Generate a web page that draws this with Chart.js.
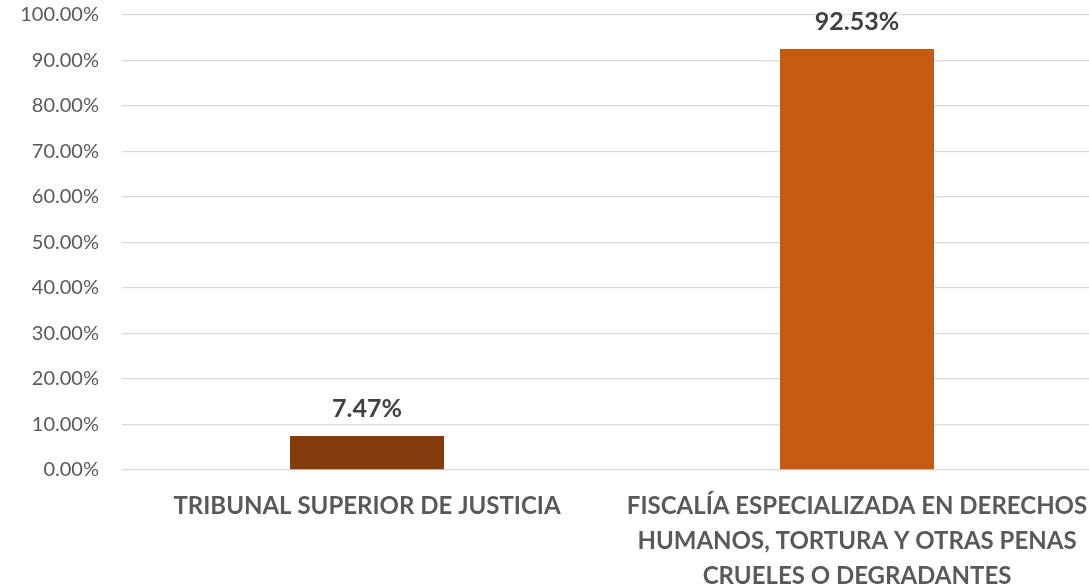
<!DOCTYPE html>
<html>
<head>
<meta charset="utf-8">
<script src="https://cdn.jsdelivr.net/npm/chart.js@4/dist/chart.umd.min.js"></script>
<style>
  html, body { margin: 0; padding: 0; background: #ffffff; overflow: hidden; }
  #wrap { width: 1102px; height: 588px; }
</style>
</head>
<body>
<div id="wrap"><canvas id="c" width="1102" height="588"></canvas></div>
<script>
const categories = [
  "TRIBUNAL SUPERIOR DE JUSTICIA",
  ["FISCALÍA ESPECIALIZADA EN DERECHOS", "HUMANOS, TORTURA Y OTRAS PENAS", "CRUELES O DEGRADANTES"]
];
const values = [7.47, 92.53];
const barColors = ["#843C0C", "#C55A11"];
const yMin = 0, yMax = 100, yStep = 10;

const FONT = "Lato, 'Open Sans', sans-serif";

const valueLabels = {
  id: 'valueLabels',
  afterDatasetsDraw(chart) {
    const ctx = chart.ctx;
    const meta = chart.getDatasetMeta(0);
    ctx.save();
    ctx.font = "bold 25px " + FONT;
    ctx.fillStyle = "#404040";
    ctx.textAlign = "center";
    ctx.textBaseline = "middle";
    meta.data.forEach((bar, i) => {
      ctx.fillText(values[i].toFixed(2) + "%", bar.x, bar.y - 27);
    });
    ctx.restore();
  }
};

new Chart(document.getElementById('c'), {
  type: 'bar',
  data: {
    labels: categories,
    datasets: [{
      data: values,
      backgroundColor: barColors,
      borderWidth: 0,
      categoryPercentage: 1,
      barPercentage: 0.3143
    }]
  },
  options: {
    responsive: false,
    animation: false,
    devicePixelRatio: 1,
    layout: { padding: { top: 15, right: 0, left: 0, bottom: 0 } },
    plugins: { legend: { display: false }, tooltip: { enabled: false } },
    scales: {
      x: {
        grid: { display: false, drawTicks: false },
        border: { display: false },
        ticks: {
          color: "#595959",
          font: { family: FONT, size: 24, weight: 'bold', lineHeight: 1.45 },
          padding: 19,
          maxRotation: 0,
          minRotation: 0,
          autoSkip: false
        },
        afterFit(scale) { scale.height = 118; scale.paddingLeft = 0; scale.paddingRight = 0; }
      },
      y: {
        min: yMin,
        max: yMax,
        grid: { color: "#D9D9D9", lineWidth: 1.3, drawTicks: false },
        border: { display: false },
        ticks: {
          stepSize: yStep,
          color: "#595959",
          font: { family: FONT, size: 20 },
          padding: 23,
          callback: v => v.toFixed(2) + "%"
        },
        afterFit(scale) { scale.width = 122; scale.paddingTop = 0; scale.paddingBottom = 0; }
      }
    }
  },
  plugins: [valueLabels]
});
</script>
</body>
</html>
